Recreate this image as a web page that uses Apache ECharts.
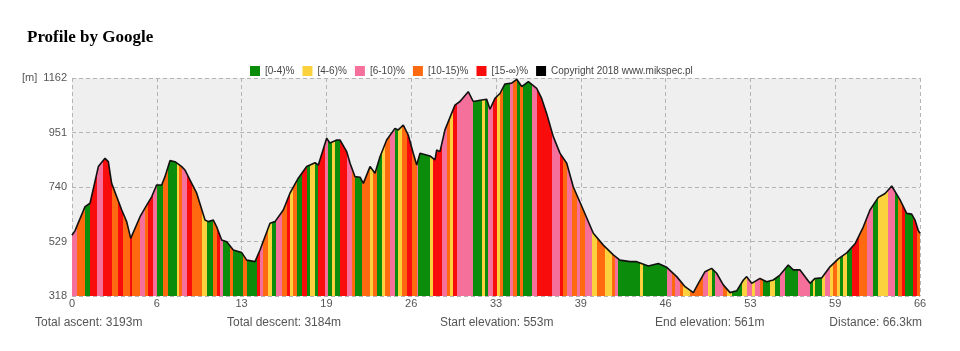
<!DOCTYPE html>
<html>
<head>
<meta charset="utf-8">
<title>Profile by Google</title>
<style>
  html, body { margin: 0; padding: 0; background: #fff; }
  .chart { width: 960px; height: 351px; }
</style>
</head>
<body>
<div class="chart"></div>
<script src="https://cdn.jsdelivr.net/npm/echarts@6/dist/echarts.min.js"></script>
<script>
// profile points: distance (km) and elevation (m)
var distKm = [0, 0.23, 1.02, 1.41, 2.06, 2.58, 2.84, 3.10, 3.89, 4.28, 4.59, 5.32, 5.84, 6.23, 6.62, 7.01, 7.27, 7.66, 8.05, 8.58,
  8.83, 9.23, 9.75, 10.40, 10.66, 11.05, 11.31, 11.70, 12.10, 12.61, 13.27, 13.66, 14.31, 14.70, 15.48, 15.87, 16.52, 17.04, 17.69, 18.35,
  19.00, 19.26, 19.91, 20.17, 20.70, 20.95, 21.48, 21.74, 22.13, 22.52, 22.78, 23.30, 23.69, 24.08, 24.60, 25.25, 25.51, 25.90, 26.29, 26.68,
  26.95, 27.21, 27.99, 28.38, 28.51, 28.77, 29.16, 29.94, 30.33, 30.98, 31.37, 32.03, 32.42, 32.68, 33.07, 33.46, 33.85, 34.38, 34.77, 35.16,
  35.68, 36.33, 36.72, 37.11, 37.63, 38.15, 38.68, 39.19, 39.98, 40.76, 41.54, 42.32, 42.84, 43.63, 44.15, 45.06, 45.84, 46.50, 47.28, 47.93,
  48.58, 48.97, 49.49, 50.01, 50.40, 50.92, 51.45, 51.97, 52.49, 52.75, 53.14, 53.79, 54.31, 54.83, 55.35, 56.00, 56.39, 56.92, 57.70, 58.09,
  58.61, 59.26, 59.91, 60.57, 61.22, 61.87, 62.39, 63.04, 63.57, 64.09, 64.74, 65.26, 65.65, 65.91, 66.17, 66.30];
var elevM = [553, 570, 664, 677, 819, 851, 838, 754, 651, 605, 541, 625, 670, 702, 748, 748, 780, 842, 838, 819,
  806, 767, 716, 612, 606, 612, 586, 535, 528, 496, 486, 457, 451, 496, 600, 606, 651, 716, 774, 819,
  834, 825, 929, 910, 922, 922, 877, 832, 780, 778, 754, 819, 793, 857, 922, 967, 961, 980, 941, 871,
  825, 871, 860, 845, 883, 877, 961, 1057, 1071, 1109, 1071, 1077, 1080, 1041, 1083, 1102, 1139, 1142, 1157, 1129,
  1148, 1122, 1083, 1025, 935, 871, 832, 741, 651, 561, 515, 477, 457, 451, 451, 434, 444, 429, 393, 354,
  331, 367, 412, 425, 406, 361, 331, 338, 380, 393, 367, 386, 373, 380, 399, 438, 419, 419, 367, 386,
  388, 431, 462, 485, 520, 586, 651, 700, 715, 744, 690, 638, 635, 612, 571, 561];

// coloured stripes: start km and gradient class (index into gradeNames)
var stripeStart = [0, 0.36, 1.02, 1.41, 1.93, 2.45, 3.10, 3.62, 4.01, 4.53, 4.67, 5.32, 5.71, 5.97, 6.36, 6.62, 7.14, 7.53, 8.18, 8.39,
  8.57, 8.97, 9.36, 10.14, 10.53, 11.05, 11.31, 11.57, 11.83, 12.35, 12.61, 13.39, 13.65, 14.44, 14.70, 14.96, 15.35, 15.61, 15.95, 16.39,
  16.79, 17.04, 17.30, 17.62, 17.96, 18.35, 18.61, 19.00, 19.26, 19.78, 20.04, 20.30, 20.56, 20.95, 21.47, 21.89, 22.13, 22.65, 23.30, 23.51,
  23.82, 24.21, 24.47, 24.86, 25.25, 25.51, 25.77, 26.17, 26.56, 26.95, 27.08, 28.00, 28.25, 28.90, 29.29, 29.55, 29.82, 30.08, 31.38, 32.03,
  32.29, 32.55, 32.94, 33.20, 33.46, 33.72, 34.24, 34.50, 34.76, 35.03, 35.29, 35.94, 36.33, 37.50, 38.16, 38.42, 38.68, 39.07, 39.46, 39.72,
  40.11, 40.63, 41.02, 41.67, 42.19, 42.45, 42.71, 44.41, 44.67, 46.49, 46.88, 47.14, 47.54, 47.80, 48.32, 49.36, 49.75, 50.01, 50.27, 50.92,
  51.18, 51.58, 52.36, 52.75, 53.14, 53.40, 53.79, 54.05, 54.57, 54.96, 55.35, 55.75, 56.79, 57.70, 57.96, 58.09, 58.61, 58.87, 59.26, 59.52,
  59.78, 60.05, 60.31, 60.57, 61.00, 61.55, 62.13, 62.65, 63.04, 63.82, 64.35, 64.61, 64.87, 65.13, 65.78, 66.04];
var stripeGrade = [2, 3, 0, 4, 2, 4, 3, 4, 3, 4, 3, 2, 3, 4, 2, 0, 3, 0, 1, 3,
  2, 4, 3, 1, 0, 3, 4, 2, 0, 3, 0, 3, 0, 4, 2, 3, 1, 0, 2, 3,
  4, 1, 3, 0, 4, 0, 1, 0, 4, 2, 0, 1, 0, 4, 2, 3, 0, 3, 1, 3,
  0, 1, 3, 2, 0, 1, 3, 4, 3, 2, 0, 1, 4, 2, 3, 1, 4, 2, 0, 1,
  0, 2, 4, 1, 3, 0, 2, 3, 0, 3, 0, 2, 4, 2, 4, 3, 2, 3, 2, 3,
  2, 1, 3, 1, 3, 2, 0, 1, 0, 2, 3, 2, 3, 1, 3, 2, 1, 0, 2, 3,
  1, 0, 1, 2, 1, 2, 3, 0, 1, 0, 2, 0, 2, 0, 1, 0, 1, 2, 1, 3,
  1, 0, 1, 0, 4, 3, 2, 0, 1, 2, 0, 3, 4, 0, 4, 3];

var gradeNames = ["[0-4)%", "[4-6)%", "[6-10)%", "[10-15)%", "[15-\u221e)%"];
var gradeColors = ["#0b8c0b", "#fbd13d", "#f5709b", "#ff6a10", "#f80c0c"];
var copyrightName = "Copyright 2018 www.mikspec.pl";

var totalKm = 66.3;
var yTicks = [318, 529, 740, 951, 1162];
var xTickLabels = ["0", "6", "13", "19", "26", "33", "39", "46", "53", "59", "66"];
var statTexts = ["Total ascent: 3193m", "Total descent: 3184m", "Start elevation: 553m", "End elevation: 561m", "Distance: 66.3km"];

(function () {
  var myChart = echarts.init(document.querySelector(".chart"));
  var font = "'Liberation Sans', Arial, sans-serif";

  var profile = distKm.map(function (d, i) { return [d, elevM[i]]; });

  // one visualMap piece per stripe
  var pieces = stripeStart.map(function (s, i) {
    var p = { gte: s, color: gradeColors[stripeGrade[i]] };
    if (i < stripeStart.length - 1) p.lt = stripeStart[i + 1];
    else p.lte = totalKm + 1;
    return p;
  });

  // legend only series
  var legendSeries = gradeNames.map(function (n, i) {
    return { name: n, type: "scatter", data: [], itemStyle: { color: gradeColors[i], opacity: 1 } };
  });
  legendSeries.push({ name: copyrightName, type: "scatter", data: [], itemStyle: { color: "#000", opacity: 1 } });

  var xStep = totalKm / (xTickLabels.length - 1);

  var option = {
    animation: false,
    title: {
      text: "Profile by Google",
      left: 22,
      top: 24,
      textStyle: { fontFamily: "'Liberation Serif', 'Times New Roman', serif", fontSize: 17, fontWeight: "bold", color: "#000" }
    },
    legend: {
      data: gradeNames.concat([copyrightName]),
      left: 245,
      top: 61,
      icon: "rect",
      itemWidth: 10,
      itemHeight: 10,
      itemGap: 8,
      selectedMode: false,
      textStyle: { fontFamily: font, fontSize: 10, color: "#444" }
    },
    grid: {
      left: 72,
      right: 40,
      top: 78,
      bottom: 55,
      show: true,
      backgroundColor: "#efefef",
      borderWidth: 0
    },
    xAxis: {
      type: "value",
      min: 0,
      max: totalKm,
      interval: xStep,
      axisLine: { show: false },
      axisTick: { show: false },
      axisLabel: {
        color: "#555",
        fontSize: 11,
        fontFamily: font,
        margin: 2,
        formatter: function (v) { return xTickLabels[Math.round(v / xStep)]; }
      },
      splitLine: { lineStyle: { color: "#b4b4b4", type: [4, 3] } }
    },
    yAxis: {
      type: "value",
      min: yTicks[0],
      max: yTicks[yTicks.length - 1],
      axisLine: { show: false },
      axisTick: { show: false, customValues: yTicks },
      axisLabel: {
        customValues: yTicks,
        color: "#555",
        fontSize: 11,
        fontFamily: font,
        margin: 5,
        formatter: function (v) { return v === yTicks[yTicks.length - 1] ? "[m]  " + v : String(v); }
      },
      splitLine: { lineStyle: { color: "#b4b4b4", type: [4, 3] } }
    },
    visualMap: {
      type: "piecewise",
      show: false,
      dimension: 0,
      seriesIndex: 0,
      pieces: pieces
    },
    series: [
      {
        name: "profile",
        type: "line",
        data: profile,
        symbol: "none",
        silent: true,
        z: 3,
        lineStyle: { color: "#111", width: 1.6 },
        areaStyle: { opacity: 1 }
      }
    ].concat(legendSeries),
    graphic: statTexts.map(function (t, i) {
      var lefts = [35, 227, 440, 655];
      var el = { type: "text", top: 317, style: { text: t, fill: "#555", font: "12px " + font } };
      if (i < lefts.length) el.left = lefts[i];
      else el.right = 38;
      return el;
    })
  };

  myChart.setOption(option);
  window.addEventListener("resize", function () {
    myChart.resize();
  });
})();
</script>
</body>
</html>
